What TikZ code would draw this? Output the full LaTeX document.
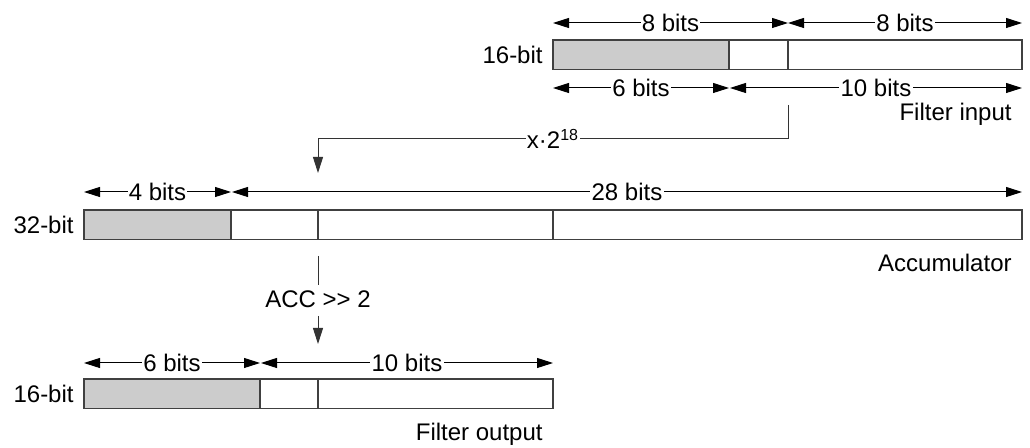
\documentclass[tikz,border=0pt]{standalone}
\usepackage{fontspec}
\setmainfont{Liberation Sans}
\usetikzlibrary{arrows.meta}
\begin{document}
\begin{tikzpicture}[x=0.5pt,y=-0.5pt,
  font=\fontsize{12}{14}\selectfont,
  cell/.style={draw=black!75, line width=0.6pt, anchor=north west, inner sep=0pt, outer sep=0pt, minimum height=14.75pt},
  msb/.style={cell, fill=black!20},
  tip/.tip={Triangle[length=8pt,width=5pt]},
  dim/.style={line width=0.5pt, tip-tip},
  lbl/.style={fill=white, inner xsep=0.6pt, inner ysep=1pt},
  conn/.style={line width=0.5pt, draw=black!80},
  side/.style={anchor=base east, inner sep=0pt},
  caption/.style={anchor=base east, inner sep=0pt}
]
\useasboundingbox (0,0) rectangle (1030,448);

% ---------- Filter input (16-bit) ----------
\node[msb,  minimum width=88pt]  (ti1) at (553,40) {};
\node[cell, minimum width=29.5pt] (ti2) at (729,40) {};
\node[cell, minimum width=117pt] (ti3) at (788,40) {};
\node[side] (lti) at (543,63.3) {16-bit};
\node[caption] (cti) at (1012,121) {Filter input};

\coordinate (a1) at (553,23);
\coordinate (a2) at (788,23);
\coordinate (a3) at (1022,23);
\draw[dim] (a1) -- node[lbl] (na1) {8 bits} (a2);
\draw[dim] (a2) -- node[lbl] (na2) {8 bits} (a3);

\coordinate (b1) at (553,88);
\coordinate (b2) at (729,88);
\coordinate (b3) at (730,88);
\coordinate (b4) at (1022,88);
\draw[dim] (b1) -- node[lbl] (nb1) {6 bits} (b2);
\draw[dim] (b3) -- node[lbl] (nb2) {10 bits} (b4);

% ---------- connector x*2^18 ----------
\coordinate (c1) at (788,105);
\coordinate (c2) at (788,139);
\coordinate (c3) at (318,139);
\coordinate (c4) at (318,173);
\draw[conn, -tip] (c1) -- (c2) -- node[lbl] (nc) {x·2\textsuperscript{18}} (c3) -- (c4);

% ---------- Accumulator (32-bit) ----------
\coordinate (d1) at (84,192);
\coordinate (d2) at (231,192);
\coordinate (d3) at (232,192);
\coordinate (d4) at (1022,192);
\draw[dim] (d1) -- node[lbl] (nd1) {4 bits} (d2);
\draw[dim] (d3) -- node[lbl] (nd2) {28 bits} (d4);

\node[msb,  minimum width=73.5pt]  (ac1) at (84,210) {};
\node[cell, minimum width=43.5pt]  (ac2) at (231,210) {};
\node[cell, minimum width=117.5pt] (ac3) at (318,210) {};
\node[cell, minimum width=234.5pt] (ac4) at (553,210) {};
\node[side] (lac) at (74,233.5) {32-bit};
\node[caption] (cac) at (1012,272) {Accumulator};

% ---------- connector ACC >> 2 ----------
\coordinate (e1) at (318,256);
\coordinate (e2) at (318,285);
\coordinate (e3) at (318,316);
\coordinate (e4) at (318,344);
\draw[conn] (e1) -- (e2);
\node[anchor=base, inner sep=0pt] (ne) at (318,308) {ACC >{}> 2};
\draw[conn, -tip] (e3) -- (e4);

% ---------- Filter output (16-bit) ----------
\coordinate (f1) at (84,363);
\coordinate (f2) at (260,363);
\coordinate (f3) at (261,363);
\coordinate (f4) at (553,363);
\draw[dim] (f1) -- node[lbl] (nf1) {6 bits} (f2);
\draw[dim] (f3) -- node[lbl] (nf2) {10 bits} (f4);

\node[msb,  minimum width=88pt]    (fo1) at (84,379) {};
\node[cell, minimum width=29pt]    (fo2) at (260,379) {};
\node[cell, minimum width=117.5pt] (fo3) at (318,379) {};
\node[side] (lfo) at (74,402.5) {16-bit};
\node[caption] (cfo) at (543,441) {Filter output};
\end{tikzpicture}
\end{document}
